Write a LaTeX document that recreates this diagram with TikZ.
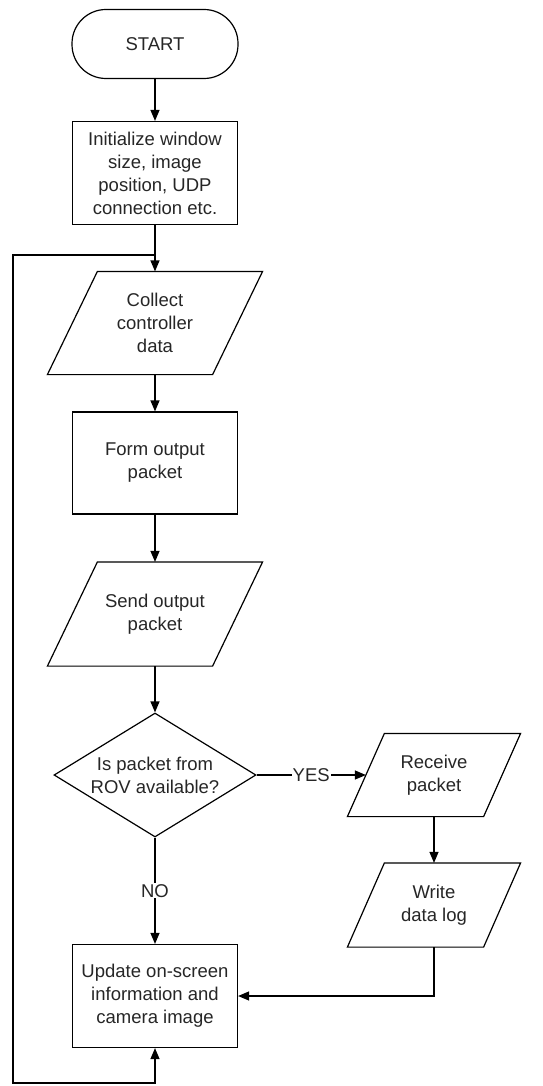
\documentclass[tikz,border=0pt]{standalone}
\usepackage{fontspec}
\setmainfont{Liberation Sans}
\usetikzlibrary{arrows.meta,shapes.geometric}
\def\ioframe(#1)(#2){\draw ([xshift=#2]#1.north west) -- ([xshift=#2]#1.north east) -- ([xshift=-#2]#1.south east) -- ([xshift=-#2]#1.south west) -- cycle;}
\tikzset{
	every node/.style={font=\fontsize{18.5pt}{23pt}\selectfont, text=black!85, align=center, inner sep=0pt},
	process/.style={draw, minimum width=165pt, minimum height=103pt},
	terminal/.style={draw, rounded corners=34pt, minimum width=166pt, minimum height=69pt},
	iobox/.style={minimum width=164pt, minimum height=102pt},
	decision/.style={draw, diamond, aspect=1.63, minimum width=202pt, minimum height=124pt},
	flow/.style={-{Triangle[length=11pt,width=9pt]}},
	lbl/.style={fill=white, inner sep=1pt}
}
\begin{document}
\begin{tikzpicture}[x=1pt, y=-1pt, line width=1.2pt]
			%%%%% START %%%%%
			\useasboundingbox (0, 0) rectangle (542, 1086);
			
			\node[terminal] (start) at (155, 44) {START};
			\node[process] (init) at (155, 173) {Initialize window\\size, image\\position, UDP\\connection etc.};
			\node[iobox] (collect) at (155, 323) {Collect\\controller\\data};
			\ioframe(collect)(25pt)
			\node[process, minimum height=102pt] (form) at (155, 463) {Form output\\packet};
			\node[iobox, minimum height=103pt] (send) at (155, 614) {Send output\\packet};
			\ioframe(send)(25pt)
			\node[decision] (check) at (155, 775) {Is packet from\\ROV available?};
			\node[iobox, minimum width=135pt, minimum height=82pt] (receive) at (434, 775) {Receive\\packet};
			\ioframe(receive)(18.5pt)
			\node[iobox, minimum width=135pt, minimum height=83pt] (writelog) at (434, 905) {Write\\data log};
			\ioframe(writelog)(18.5pt)
			\node[process] (update) at (155, 996) {Update on-screen\\information and\\camera image};
			
			\coordinate (joint) at (155, 255);
			\coordinate (corner) at (13, 1083);
			
			\draw[flow] (start) -- (init);
			\draw[flow] (init) -- (collect);
			\draw[flow] (collect) -- (form);
			\draw[flow] (form) -- (send);
			\draw[flow] (send) -- (check);
			\draw[flow] (check) -- node[lbl] {YES} (receive);
			\draw[flow] (receive) -- (writelog);
			\draw[flow] (check) -- node[lbl] {NO} (update);
			\draw[flow] (writelog.south) |- (update.east);
			\draw[{Triangle[length=11pt,width=9pt]}-] (update.south) |- (corner) |- (joint);
			%%%%% END %%%%%
\end{tikzpicture}
\end{document}
